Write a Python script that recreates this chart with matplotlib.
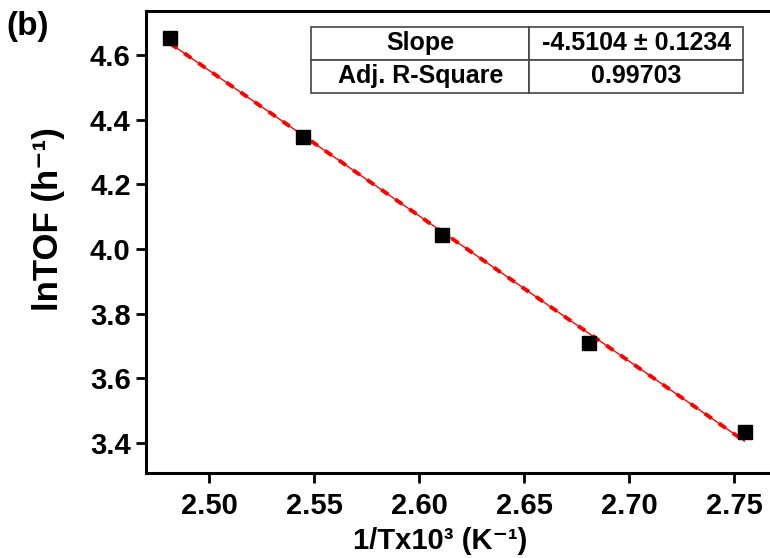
import numpy as np
import matplotlib
matplotlib.use("Agg")
import matplotlib.pyplot as plt

plt.rcParams['font.family'] = ['Liberation Sans', 'DejaVu Sans']
plt.rcParams['font.weight'] = 'bold'

# donnees
inv_T = [2.4815, 2.5445, 2.6107, 2.681, 2.7548]
ln_tof = [4.653, 4.347, 4.043, 3.709, 3.433]
table_rows = [["Slope", "-4.5104 ± 0.1234"], ["Adj. R-Square", "0.99703"]]

fig = plt.figure(figsize=(7.7, 5.58), dpi=100)
ax = fig.add_axes([0.1896, 0.1523, 0.8134, 0.828])

# ajustement lineaire
pente, origine = np.polyfit(inv_T, ln_tof, 1)
xf = np.array([min(inv_T), max(inv_T)])
yf = pente * xf + origine
ax.plot(xf, yf, color='red', lw=1, zorder=2)
ax.plot(xf, yf, color='red', lw=2.8, ls=(0, (2.2, 2.2)), zorder=2)
ax.plot(inv_T, ln_tof, 's', color='black', ms=10, zorder=3)

ax.set_xlim(2.470, 2.768)
ax.set_ylim(3.307, 4.736)
ax.set_xticks([2.50, 2.55, 2.60, 2.65, 2.70, 2.75])
ax.set_yticks([3.4, 3.6, 3.8, 4.0, 4.2, 4.4, 4.6])
ax.set_xticklabels(["2.50", "2.55", "2.60", "2.65", "2.70", "2.75"])
ax.set_yticklabels(["3.4", "3.6", "3.8", "4.0", "4.2", "4.4", "4.6"])
ax.tick_params(labelsize=21, width=2, length=7, direction='out')
ax.tick_params(axis='x', pad=7)
ax.tick_params(axis='y', pad=4)
for s in ax.spines.values():
    s.set_linewidth(2.2)
ax.spines['right'].set_visible(False)

ax.set_xlabel("1/Tx10³ (K⁻¹)", fontsize=21, fontweight='bold', va='bottom')
ax.xaxis.set_label_coords(0.47, -0.178)
ax.set_ylabel("lnTOF (h⁻¹)", fontsize=25, fontweight='bold')
ax.yaxis.set_label_coords(-0.13, 0.55)

tab = ax.table(cellText=table_rows, cellLoc='center', colWidths=[0.505, 0.495],
               bbox=[0.2636, 0.8225, 0.690, 0.1429])
tab.auto_set_font_size(False)
for (r, c), cell in tab.get_celld().items():
    cell.set_edgecolor('#444444')
    cell.set_linewidth(1.2)
    cell.get_text().set_fontsize(18)
    cell.get_text().set_fontweight('bold')

fig.text(0.008, 0.952, "(b)", fontsize=24, fontweight='bold', va='center')

fig.savefig("out.png", dpi=100)
